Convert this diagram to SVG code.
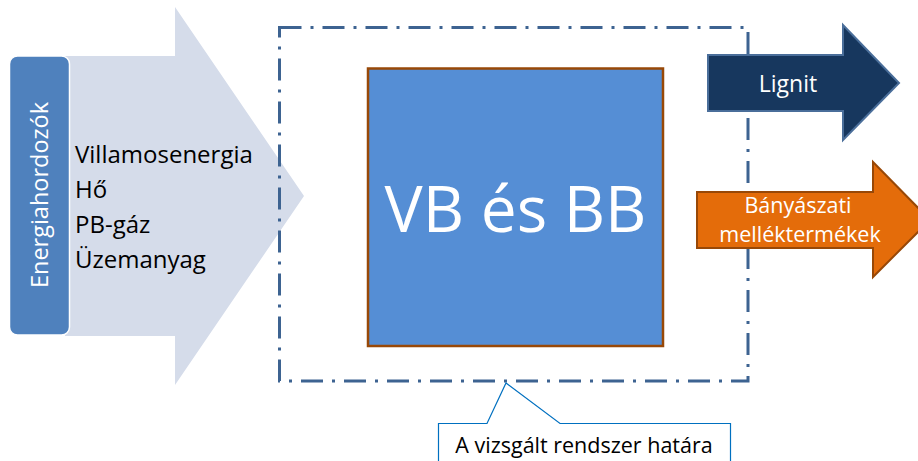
<svg xmlns="http://www.w3.org/2000/svg" width="918" height="461" viewBox="0 0 918 461">
<style>
.t{font-family:"Open Sans","Liberation Sans",Arial,sans-serif;}
.w{fill:#fff;}
.k{fill:#000;}
</style>
<rect width="918" height="461" fill="#fff"/>
<g id="input-arrow">
<path d="M65,56 H175 V7 L304,196 L175,385 V336 H65 Z" fill="#D5DCEA"/>
<text class="t k" x="75" y="163" font-size="24">Villamosenergia</text>
<text class="t k" x="75" y="198" font-size="24">Hő</text>
<text class="t k" x="75" y="233" font-size="24">PB-gáz</text>
<text class="t k" x="75" y="268" font-size="24">Üzemanyag</text>
</g>
<g id="energiahordozok">
<rect x="9.5" y="56" width="60" height="279" rx="8" fill="#4F81BD" stroke="#fff" stroke-width="1.5"/>
<text class="t w" transform="translate(47.5,195) rotate(-90)" text-anchor="middle" font-size="23.5">Energiahordozók</text>
</g>
<g id="boundary">
<rect x="279.5" y="27.5" width="468.5" height="353.5" fill="none" stroke="#3D6391" stroke-width="3" stroke-dasharray="22,9,3,9"/>
</g>
<g id="vb-bb">
<rect x="368" y="68.5" width="295" height="277.5" fill="#558ED5" stroke="#984807" stroke-width="2.5"/>
<text class="t w" x="515.5" y="232" text-anchor="middle" font-size="64">VB és BB</text>
</g>
<g id="lignit">
<path d="M708,55 H843 V25 L899,83 L843,140 V111 H708 Z" fill="#17375E" stroke="#4A6E9A" stroke-width="2"/>
<text class="t w" x="788" y="92" text-anchor="middle" font-size="23">Lignit</text>
</g>
<g id="banyaszati">
<path d="M697,192 H873 V162 L930,220 L873,277 V248 H697 Z" fill="#E46C0A" stroke="#984807" stroke-width="2"/>
<text class="t w" x="798" y="213" text-anchor="middle" font-size="21.5">Bányászati</text>
<text class="t w" x="800" y="242" text-anchor="middle" font-size="21.5">melléktermékek</text>
</g>
<g id="callout">
<path d="M438.5,470 V423.5 H487 L506,383 L560,423.5 H730.5 V470" fill="#fff" stroke="#0070C0" stroke-width="1.2"/>
<text class="t k" x="584" y="453" text-anchor="middle" font-size="21.5">A vizsgált rendszer határa</text>
</g>
<g id="connectors"></g>
</svg>
